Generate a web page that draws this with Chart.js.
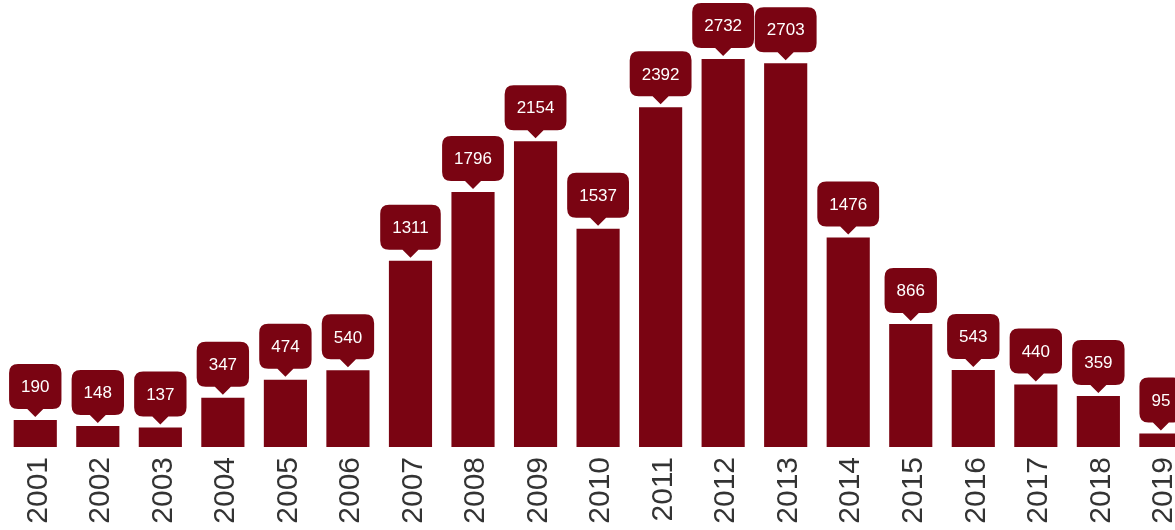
<!DOCTYPE html>
<html>
<head>
<meta charset="utf-8">
<script src="https://cdn.jsdelivr.net/npm/chart.js@4.4.1/dist/chart.umd.min.js"></script>
<style>
  html, body { margin: 0; padding: 0; background: #fff; overflow: hidden; }
  #wrap { width: 1175px; height: 530px; overflow: hidden; }
</style>
</head>
<body>
<div id="wrap"><canvas id="c" width="1207" height="530"></canvas></div>
<script>
const years = ['2001','2002','2003','2004','2005','2006','2007','2008','2009','2010',
               '2011','2012','2013','2014','2015','2016','2017','2018','2019'];
const counts = [190, 148, 137, 347, 474, 540, 1311, 1796, 2154, 1537,
                2392, 2732, 2703, 1476, 866, 543, 440, 359, 95];

const barColor = '#7a0412';

// bulles au-dessus des barres
const bubbles = {
    id: 'bubbles',
    afterDatasetsDraw(chart) {
        const ctx = chart.ctx;
        const meta = chart.getDatasetMeta(0);
        ctx.save();
        ctx.font = '17px "Liberation Sans", Arial, sans-serif';
        ctx.textAlign = 'center';
        ctx.textBaseline = 'middle';
        meta.data.forEach((bar, i) => {
            const txt = String(counts[i]);
            const w = ctx.measureText(txt).width + 24;
            const h = 45, r = 9, tipH = 8, tipW = 8;
            const tipY = bar.y - 3;
            const bottom = tipY - tipH;
            const top = bottom - h;
            const left = bar.x - w / 2, right = bar.x + w / 2;
            ctx.beginPath();
            ctx.moveTo(left + r, top);
            ctx.lineTo(right - r, top);
            ctx.quadraticCurveTo(right, top, right, top + r);
            ctx.lineTo(right, bottom - r);
            ctx.quadraticCurveTo(right, bottom, right - r, bottom);
            ctx.lineTo(bar.x + tipW, bottom);
            ctx.lineTo(bar.x, tipY);
            ctx.lineTo(bar.x - tipW, bottom);
            ctx.lineTo(left + r, bottom);
            ctx.quadraticCurveTo(left, bottom, left, bottom - r);
            ctx.lineTo(left, top + r);
            ctx.quadraticCurveTo(left, top, left + r, top);
            ctx.closePath();
            ctx.fillStyle = barColor;
            ctx.fill();
            ctx.fillStyle = '#fff';
            ctx.fillText(txt, bar.x, top + h / 2 + 1);
        });
        ctx.restore();
    }
};

new Chart(document.getElementById('c'), {
    type: 'bar',
    data: {
        labels: years,
        datasets: [{data: counts, backgroundColor: barColor, barPercentage: 0.69, categoryPercentage: 1}]
    },
    options: {
        responsive: false, animation: false,
        layout: {padding: {left: 4, right: 4, top: 21, bottom: 0}},
        plugins: {legend: {display: false}, tooltip: {enabled: false}},
        scales: {
            y: {display: false, min: 0, max: 3000},
            x: {
                grid: {display: false, drawTicks: false},
                border: {display: false},
                ticks: {
                    autoSkip: false, maxRotation: 90, minRotation: 90, padding: 10, labelOffset: 3,
                    color: '#333', font: {family: '"Liberation Sans", Arial, sans-serif', size: 30}
                },
                afterFit(scale) { scale.height = 83; }
            }
        }
    },
    plugins: [bubbles]
});
</script>
</body>
</html>
